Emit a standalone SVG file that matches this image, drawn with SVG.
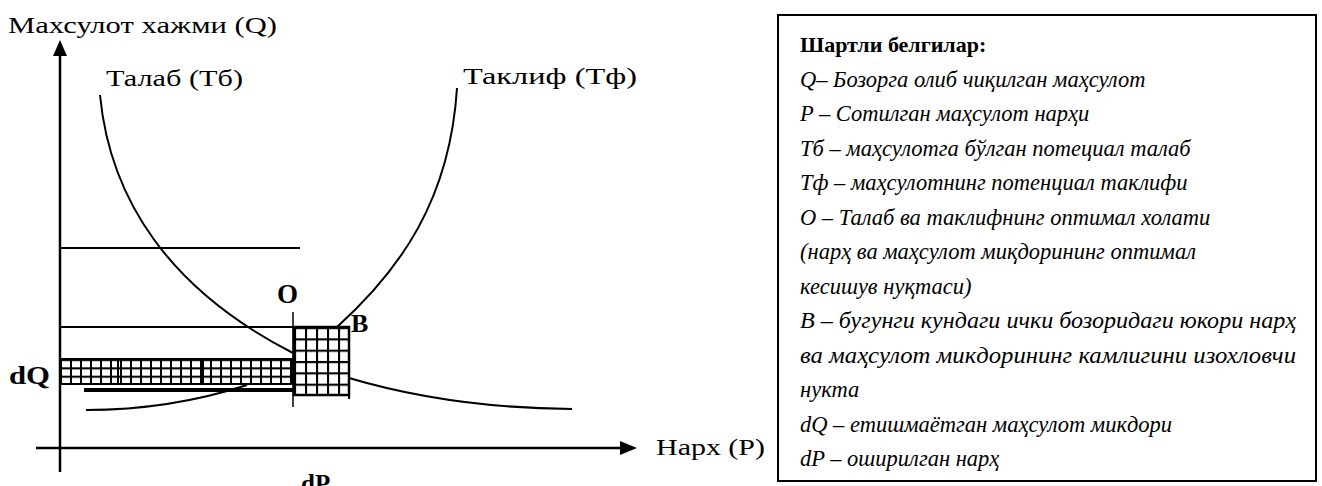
<svg xmlns="http://www.w3.org/2000/svg" width="1322" height="486" viewBox="0 0 1322 486">
<style>
.lbl{font-family:"Liberation Serif",serif;font-size:24px;fill:#000}
.b{font-family:"Liberation Serif",serif;font-size:25px;font-weight:bold;fill:#000}
.lg{font-family:"Liberation Serif",serif;font-size:22.5px;font-style:italic;fill:#000}
.ln{stroke:#000;fill:none}
</style>
<defs>
<pattern id="gridB" x="294" y="327" width="11" height="11.33" patternUnits="userSpaceOnUse">
<rect width="11" height="11.33" fill="#fff"/>
<path d="M1,0V11.33M0,1H11" stroke="#000" stroke-width="2.2"/>
</pattern>
<pattern id="gridQ" x="60" y="359" width="10" height="8.33" patternUnits="userSpaceOnUse">
<rect width="10" height="8.33" fill="#fff"/>
<path d="M1,0V8.33M0,1H10" stroke="#000" stroke-width="2"/>
</pattern>
</defs>
<rect width="1322" height="486" fill="#fff"/>
<g id="connectors">
<path class="ln" stroke-width="2" d="M100,95 C110,200 170,290 293,353 L349,378 Q450,408 572,409"/>
<path class="ln" stroke-width="2" d="M457,88 C450,200 400,270 337,327"/>
<path class="ln" stroke-width="2" d="M86,410 Q170,410 247,385"/>
<line class="ln" stroke-width="2" x1="60" y1="248" x2="300" y2="248"/>
<line class="ln" stroke-width="2" x1="60" y1="327" x2="294" y2="327"/>
<line class="ln" stroke-width="4" x1="84" y1="390" x2="293" y2="390"/>
<line class="ln" stroke-width="1.5" x1="293" y1="312" x2="293" y2="407"/>
</g>
<g id="axes">
<line class="ln" stroke-width="2.5" x1="60" y1="472" x2="60" y2="54"/>
<polygon points="60,40 53,56 67,56" fill="#000"/>
<line class="ln" stroke-width="2.5" x1="36" y1="448" x2="622" y2="448"/>
<polygon points="637,448 620,441 620,455" fill="#000"/>
<text class="lbl" x="8" y="33" textLength="269" lengthAdjust="spacingAndGlyphs">Махсулот хажми (Q)</text>
<text class="lbl" x="656" y="455" textLength="109" lengthAdjust="spacingAndGlyphs">Нарх (P)</text>
</g>
<g id="demand">
<text class="lbl" x="106" y="86" textLength="137" lengthAdjust="spacingAndGlyphs">Талаб (Тб)</text>
</g>
<g id="supply">
<text class="lbl" x="463" y="84" textLength="174" lengthAdjust="spacingAndGlyphs">Таклиф (Тф)</text>
</g>
<g id="dQ">
<rect x="60" y="359" width="233" height="25" fill="url(#gridQ)" stroke="#000" stroke-width="2"/>
<line class="ln" stroke-width="2" x1="118" y1="359" x2="118" y2="384"/>
<line class="ln" stroke-width="2" x1="203" y1="359" x2="203" y2="384"/>
<text class="b" x="9" y="384" textLength="41" lengthAdjust="spacingAndGlyphs">dQ</text>
</g>
<g id="pointB">
<rect x="294" y="327" width="55" height="68" fill="url(#gridB)" stroke="#000" stroke-width="2.5"/>
<line class="ln" stroke-width="2" x1="349" y1="395" x2="349" y2="399"/>
<text class="b" x="351" y="332" style="font-size:26px">B</text>
</g>
<g id="pointO">
<text class="b" x="277" y="303" style="font-size:27px">O</text>
</g>
<g id="dP">
<text class="b" x="301" y="492">dP</text>
</g>
<g id="legend">
<rect x="778" y="15" width="538" height="466" fill="#fff" stroke="#000" stroke-width="2"/>
<text class="b" x="800" y="52" style="font-size:22px">Шартли белгилар:</text>
<text class="lg" x="800" y="86.5">Q– Бозорга олиб чиқилган маҳсулот</text>
<text class="lg" x="800" y="121">P – Сотилган маҳсулот нарҳи</text>
<text class="lg" x="800" y="155.5">Тб – маҳсулотга бўлган потециал талаб</text>
<text class="lg" x="800" y="190">Тф – маҳсулотнинг потенциал таклифи</text>
<text class="lg" x="800" y="224.5">O – Талаб ва таклифнинг оптимал холати</text>
<text class="lg" x="800" y="259">(нарҳ ва маҳсулот миқдорининг оптимал</text>
<text class="lg" x="800" y="293.5">кесишув нуқтаси)</text>
<text class="lg" x="800" y="328" textLength="496" lengthAdjust="spacingAndGlyphs">B – бугунги кундаги ички бозоридаги юкори нарҳ</text>
<text class="lg" x="800" y="362.5" textLength="496" lengthAdjust="spacingAndGlyphs">ва маҳсулот микдорининг камлигини изохловчи</text>
<text class="lg" x="800" y="397">нукта</text>
<text class="lg" x="800" y="431.5">dQ – етишмаётган маҳсулот микдори</text>
<text class="lg" x="800" y="466">dP – оширилган нарҳ</text>
</g>
</svg>
